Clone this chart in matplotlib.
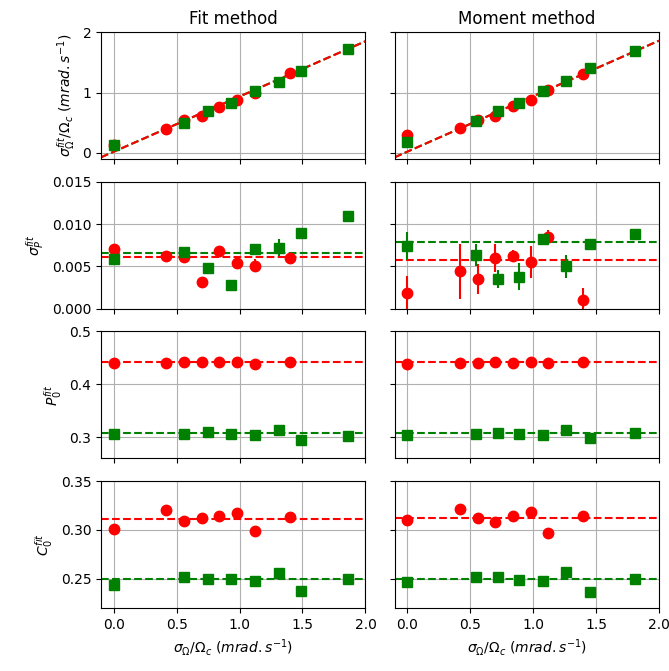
import matplotlib.pyplot as plt
import numpy as np

# x positions: true sigma_Omega / Omega_c
x_red = [0.0, 0.42, 0.56, 0.70, 0.84, 0.98, 1.12, 1.40]
x_green_fit = [0.0, 0.56, 0.75, 0.93, 1.12, 1.31, 1.49, 1.86]
x_green_mom = [0.0, 0.55, 0.72, 0.89, 1.08, 1.26, 1.45, 1.81]

# --- fit method ---
sig_fit_red = [0.13, 0.40, 0.54, 0.62, 0.76, 0.88, 1.00, 1.32]
sig_fit_green = [0.13, 0.49, 0.69, 0.83, 1.02, 1.17, 1.35, 1.72]
sp_fit_red = [0.0071, 0.0062, 0.0061, 0.0031, 0.0068, 0.0054, 0.0051, 0.0060]
sp_fit_red_err = [0.0002, 0.0001, 0.0002, 0.0001, 0.0002, 0.0003, 0.0008, 0.0002]
sp_fit_green = [0.0059, 0.0067, 0.0048, 0.0028, 0.0071, 0.0072, 0.0090, 0.0110]
sp_fit_green_err = [0.0002, 0.0003, 0.0002, 0.0001, 0.0003, 0.0010, 0.0004, 0.0002]
p0_fit_red = [0.4405, 0.4405, 0.443, 0.443, 0.443, 0.443, 0.438, 0.443]
p0_fit_green = [0.306, 0.306, 0.310, 0.306, 0.304, 0.313, 0.2955, 0.302]
c0_fit_red = [0.301, 0.320, 0.3095, 0.312, 0.3145, 0.317, 0.2985, 0.313]
c0_fit_green = [0.244, 0.2514, 0.2497, 0.2497, 0.248, 0.2557, 0.2378, 0.2497]

# --- moment method ---
sig_mom_red = [0.30, 0.41, 0.54, 0.61, 0.77, 0.88, 1.04, 1.31]
sig_mom_green = [0.19, 0.53, 0.69, 0.83, 1.03, 1.19, 1.40, 1.69]
sp_mom_red = [0.0018, 0.0044, 0.0035, 0.0060, 0.0062, 0.0055, 0.0085, 0.0010]
sp_mom_red_err = [0.0021, 0.0032, 0.0018, 0.0017, 0.0007, 0.0019, 0.0008, 0.0015]
sp_mom_green = [0.0074, 0.0064, 0.0035, 0.0038, 0.0082, 0.0050, 0.0076, 0.0088]
sp_mom_green_err = [0.0017, 0.0013, 0.0011, 0.0016, 0.0004, 0.0014, 0.0003, 0.0002]
p0_mom_red = [0.438, 0.440, 0.440, 0.443, 0.440, 0.443, 0.440, 0.442]
p0_mom_green = [0.304, 0.306, 0.308, 0.306, 0.304, 0.313, 0.299, 0.307]
c0_mom_red = [0.3105, 0.3216, 0.3118, 0.3081, 0.3142, 0.3182, 0.297, 0.3142]
c0_mom_green = [0.2463, 0.2514, 0.2514, 0.249, 0.2476, 0.257, 0.2368, 0.250]

# fitted lines / means (slope, intercept for the top row)
lin_fit = (0.915, 0.02)
lin_mom = (0.92, 0.02)
mean_fit = {'sp': (0.00615, 0.00663), 'p0': (0.443, 0.307), 'c0': (0.3111, 0.2497)}
mean_mom = {'sp': (0.00575, 0.00786), 'p0': (0.4418, 0.3076), 'c0': (0.3125, 0.2500)}

fig, axes = plt.subplots(4, 2, sharex=True, sharey='row', figsize=(6.69, 6.71), dpi=100)
fig.subplots_adjust(left=0.151, right=0.985, top=0.952, bottom=0.094, wspace=0.11, hspace=0.18)

cols = [
    (x_green_fit, sig_fit_red, sig_fit_green, sp_fit_red, sp_fit_red_err, sp_fit_green,
     sp_fit_green_err, p0_fit_red, p0_fit_green, c0_fit_red, c0_fit_green, lin_fit, mean_fit),
    (x_green_mom, sig_mom_red, sig_mom_green, sp_mom_red, sp_mom_red_err, sp_mom_green,
     sp_mom_green_err, p0_mom_red, p0_mom_green, c0_mom_red, c0_mom_green, lin_mom, mean_mom),
]

ms = 7.5
for j, (xg, sr, sg, spr, spre, spg, spge, pr, pg, cr, cg, lin, mean) in enumerate(cols):
    ax = axes[0, j]
    ax.plot(x_red, sr, 'o', color='r', ms=ms)
    ax.plot(xg, sg, 's', color='g', ms=ms)
    ax.axline((0, lin[1]), slope=lin[0], color='g', ls='--', zorder=1.5)
    ax.axline((0, lin[1]), slope=lin[0], color='r', ls='--', zorder=1.6)

    ax = axes[1, j]
    ax.errorbar(x_red, spr, yerr=spre, fmt='o', color='r', ms=ms)
    ax.errorbar(xg, spg, yerr=spge, fmt='s', color='g', ms=ms)
    ax.axhline(mean['sp'][0], color='r', ls='--', zorder=1.5)
    ax.axhline(mean['sp'][1], color='g', ls='--', zorder=1.5)

    ax = axes[2, j]
    ax.plot(x_red, pr, 'o', color='r', ms=ms)
    ax.plot(xg, pg, 's', color='g', ms=ms)
    ax.axhline(mean['p0'][0], color='r', ls='--', zorder=1.5)
    ax.axhline(mean['p0'][1], color='g', ls='--', zorder=1.5)

    ax = axes[3, j]
    ax.plot(x_red, cr, 'o', color='r', ms=ms)
    ax.plot(xg, cg, 's', color='g', ms=ms)
    ax.axhline(mean['c0'][0], color='r', ls='--', zorder=1.5)
    ax.axhline(mean['c0'][1], color='g', ls='--', zorder=1.5)
    ax.set_xlabel(r'$\sigma_\Omega/\Omega_c\ (mrad.s^{-1})$')

for ax in axes.flat:
    ax.grid(True)
    ax.set_axisbelow(True)

axes[0, 0].set_xlim(-0.1, 2.0)
axes[0, 0].set_xticks([0.0, 0.5, 1.0, 1.5, 2.0])
axes[0, 0].set_ylim(-0.1, 2.0)
axes[0, 0].set_yticks([0, 1, 2])
axes[1, 0].set_ylim(0, 0.015)
axes[1, 0].set_yticks([0.0, 0.005, 0.010, 0.015])
axes[2, 0].set_ylim(0.26, 0.5)
axes[2, 0].set_yticks([0.3, 0.4, 0.5])
axes[3, 0].set_ylim(0.22, 0.35)
axes[3, 0].set_yticks([0.25, 0.30, 0.35])

axes[0, 0].set_title('Fit method')
axes[0, 1].set_title('Moment method')
axes[0, 0].set_ylabel(r'$\sigma_\Omega^{fit}/\Omega_c\ (mrad.s^{-1})$')
axes[1, 0].set_ylabel(r'$\sigma_P^{fit}$')
axes[2, 0].set_ylabel(r'$P_0^{fit}$')
axes[3, 0].set_ylabel(r'$C_0^{fit}$')

fig.savefig('out.png', dpi=100)
